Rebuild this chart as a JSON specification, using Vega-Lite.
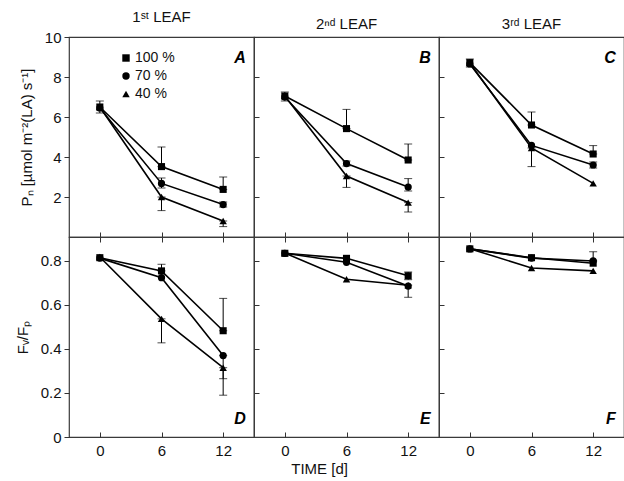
{
 "$schema": "https://vega.github.io/schema/vega-lite/v6.json",
 "padding": {"left": 14, "top": 9, "right": 0, "bottom": 2},
 "datasets": {"d": [
  {"m":"PN","leaf":1,"t":0,"g":"100 %","v":6.5,"lo":6.2,"hi":6.8},
  {"m":"PN","leaf":1,"t":0,"g":"70 %","v":6.45},
  {"m":"PN","leaf":1,"t":0,"g":"40 %","v":6.5},
  {"m":"PN","leaf":1,"t":6,"g":"100 %","v":3.52,"lo":3.52,"hi":4.5},
  {"m":"PN","leaf":1,"t":6,"g":"70 %","v":2.68,"lo":2.45,"hi":2.95},
  {"m":"PN","leaf":1,"t":6,"g":"40 %","v":2.0,"lo":1.32,"hi":2.0},
  {"m":"PN","leaf":1,"t":12,"g":"100 %","v":2.38,"lo":2.38,"hi":3.0},
  {"m":"PN","leaf":1,"t":12,"g":"70 %","v":1.62,"lo":1.5,"hi":1.75},
  {"m":"PN","leaf":1,"t":12,"g":"40 %","v":0.8,"lo":0.52,"hi":0.8},
  {"m":"PN","leaf":2,"t":0,"g":"100 %","v":7.05,"lo":6.8,"hi":7.25},
  {"m":"PN","leaf":2,"t":0,"g":"70 %","v":7.0},
  {"m":"PN","leaf":2,"t":0,"g":"40 %","v":7.05},
  {"m":"PN","leaf":2,"t":6,"g":"100 %","v":5.42,"lo":5.42,"hi":6.38},
  {"m":"PN","leaf":2,"t":6,"g":"70 %","v":3.67,"lo":3.55,"hi":3.8},
  {"m":"PN","leaf":2,"t":6,"g":"40 %","v":3.05,"lo":2.48,"hi":3.05},
  {"m":"PN","leaf":2,"t":12,"g":"100 %","v":3.85,"lo":3.85,"hi":4.65},
  {"m":"PN","leaf":2,"t":12,"g":"70 %","v":2.5,"lo":2.3,"hi":2.92},
  {"m":"PN","leaf":2,"t":12,"g":"40 %","v":1.72,"lo":1.25,"hi":1.72},
  {"m":"PN","leaf":3,"t":0,"g":"100 %","v":8.72,"lo":8.5,"hi":8.9},
  {"m":"PN","leaf":3,"t":0,"g":"70 %","v":8.65},
  {"m":"PN","leaf":3,"t":0,"g":"40 %","v":8.7},
  {"m":"PN","leaf":3,"t":6,"g":"100 %","v":5.6,"lo":5.6,"hi":6.25},
  {"m":"PN","leaf":3,"t":6,"g":"70 %","v":4.58},
  {"m":"PN","leaf":3,"t":6,"g":"40 %","v":4.45,"lo":3.52,"hi":4.45},
  {"m":"PN","leaf":3,"t":12,"g":"100 %","v":4.15,"lo":4.15,"hi":4.57},
  {"m":"PN","leaf":3,"t":12,"g":"70 %","v":3.6,"lo":3.45,"hi":3.75},
  {"m":"PN","leaf":3,"t":12,"g":"40 %","v":2.68},
  {"m":"FvFp","leaf":1,"t":0,"g":"100 %","v":0.815},
  {"m":"FvFp","leaf":1,"t":0,"g":"70 %","v":0.813},
  {"m":"FvFp","leaf":1,"t":0,"g":"40 %","v":0.818},
  {"m":"FvFp","leaf":1,"t":6,"g":"100 %","v":0.755,"lo":0.755,"hi":0.785},
  {"m":"FvFp","leaf":1,"t":6,"g":"70 %","v":0.724},
  {"m":"FvFp","leaf":1,"t":6,"g":"40 %","v":0.537,"lo":0.428,"hi":0.537},
  {"m":"FvFp","leaf":1,"t":12,"g":"100 %","v":0.483,"lo":0.483,"hi":0.63},
  {"m":"FvFp","leaf":1,"t":12,"g":"70 %","v":0.37,"lo":0.265,"hi":0.37},
  {"m":"FvFp","leaf":1,"t":12,"g":"40 %","v":0.315,"lo":0.19,"hi":0.315},
  {"m":"FvFp","leaf":2,"t":0,"g":"100 %","v":0.835},
  {"m":"FvFp","leaf":2,"t":0,"g":"70 %","v":0.835},
  {"m":"FvFp","leaf":2,"t":0,"g":"40 %","v":0.836},
  {"m":"FvFp","leaf":2,"t":6,"g":"100 %","v":0.812},
  {"m":"FvFp","leaf":2,"t":6,"g":"70 %","v":0.794},
  {"m":"FvFp","leaf":2,"t":6,"g":"40 %","v":0.717},
  {"m":"FvFp","leaf":2,"t":12,"g":"100 %","v":0.733,"lo":0.715,"hi":0.75},
  {"m":"FvFp","leaf":2,"t":12,"g":"70 %","v":0.686},
  {"m":"FvFp","leaf":2,"t":12,"g":"40 %","v":0.69,"lo":0.635,"hi":0.69},
  {"m":"FvFp","leaf":3,"t":0,"g":"100 %","v":0.855},
  {"m":"FvFp","leaf":3,"t":0,"g":"70 %","v":0.855},
  {"m":"FvFp","leaf":3,"t":0,"g":"40 %","v":0.856},
  {"m":"FvFp","leaf":3,"t":6,"g":"100 %","v":0.815},
  {"m":"FvFp","leaf":3,"t":6,"g":"70 %","v":0.813},
  {"m":"FvFp","leaf":3,"t":6,"g":"40 %","v":0.768},
  {"m":"FvFp","leaf":3,"t":12,"g":"100 %","v":0.79},
  {"m":"FvFp","leaf":3,"t":12,"g":"70 %","v":0.8,"lo":0.8,"hi":0.842},
  {"m":"FvFp","leaf":3,"t":12,"g":"40 %","v":0.755}
 ]},
 "data": {"name": "d"},
 "columns": 3,
 "spacing": 0,
 "bounds": "flush",
 "title": {"text": "TIME [d]", "orient": "bottom", "offset": 3, "anchor": "middle"},
 "resolve": {"legend": {"shape": "independent"}},
 "concat": [
  {
   "width": 185, "height": 200,
   "title": {"text": "1ˢᵗ LEAF", "anchor": "middle"},
   "transform": [{"filter": "datum.m == 'PN' && datum.leaf == 1"}],
   "encoding": {
    "x": {"field": "t", "type": "quantitative", "scale": {"domain": [-3, 15], "nice": false, "zero": false}, "axis": {"values": [0, 6, 12], "labels": false, "tickSize": 10, "offset": -5, "title": null}},
    "y": {"field": "v", "type": "quantitative", "scale": {"domain": [0, 10], "nice": false, "zero": false}, "axis": {"values": [2, 4, 6, 8, 10], "tickSize": 5, "labelPadding": 3, "title": "Pₙ [µmol m⁻²(LA) s⁻¹]", "titlePadding": 10}}
   },
   "layer": [
    {"mark": {"type": "errorbar", "rule": {"color": "black", "strokeWidth": 1}, "ticks": {"color": "black", "size": 8}},
     "transform": [{"filter": "isValid(datum.lo)"}],
     "encoding": {"y": {"field": "lo", "type": "quantitative", "scale": {"domain": [0, 10], "nice": false, "zero": false}, "axis": {"values": [2, 4, 6, 8, 10], "tickSize": 5, "labelPadding": 3, "title": "Pₙ [µmol m⁻²(LA) s⁻¹]", "titlePadding": 10}}, "y2": {"field": "hi"}}},
    {"mark": {"type": "line", "color": "black", "strokeWidth": 1.6}, "encoding": {"detail": {"field": "g"}}},
    {"mark": {"type": "point", "filled": true, "color": "black", "opacity": 1},
     "encoding": {
      "shape": {"field": "g", "type": "nominal", "scale": {"domain": ["100 %", "70 %", "40 %"], "range": ["square", "circle", "triangle-up"]},
       "legend": {"orient": "none", "legendX": 50, "legendY": 14, "title": null, "labelFontSize": 14, "labelFont": "Liberation Sans", "labelColor": "#111", "symbolSize": 55, "symbolFillColor": "black", "symbolStrokeColor": "black", "symbolOpacity": 1, "labelExpr": "datum.label == '100 %' ? datum.label : '\u2007' + datum.label", "rowPadding": 4, "padding": 0, "labelOffset": 2}},
      "size": {"field": "g", "type": "nominal", "scale": {"domain": ["100 %", "70 %", "40 %"], "range": [50, 55, 90]}, "legend": null}}},
    {"data": {"values": [{"t": 14.2, "v": 8.95, "lab": "A"}]},
     "mark": {"type": "text", "align": "right", "baseline": "middle", "fontSize": 16, "fontWeight": "bold", "fontStyle": "italic", "font": "Liberation Sans", "color": "black"},
     "encoding": {"text": {"field": "lab"}}}
   ]
  },
  {
   "width": 185, "height": 200,
   "title": {"text": "2ⁿᵈ LEAF", "anchor": "middle"},
   "transform": [{"filter": "datum.m == 'PN' && datum.leaf == 2"}],
   "encoding": {
    "x": {"field": "t", "type": "quantitative", "scale": {"domain": [-3, 15], "nice": false, "zero": false}, "axis": {"values": [0, 6, 12], "labels": false, "tickSize": 10, "offset": -5, "title": null}},
    "y": {"field": "v", "type": "quantitative", "scale": {"domain": [0, 10], "nice": false, "zero": false}, "axis": {"values": [2, 4, 6, 8, 10], "tickSize": 5, "offset": -5, "labels": false, "title": null}}
   },
   "layer": [
    {"mark": {"type": "errorbar", "rule": {"color": "black", "strokeWidth": 1}, "ticks": {"color": "black", "size": 8}},
     "transform": [{"filter": "isValid(datum.lo)"}],
     "encoding": {"y": {"field": "lo", "type": "quantitative", "scale": {"domain": [0, 10], "nice": false, "zero": false}, "axis": {"values": [2, 4, 6, 8, 10], "tickSize": 5, "offset": -5, "labels": false, "title": null}}, "y2": {"field": "hi"}}},
    {"mark": {"type": "line", "color": "black", "strokeWidth": 1.6}, "encoding": {"detail": {"field": "g"}}},
    {"mark": {"type": "point", "filled": true, "color": "black", "opacity": 1},
     "encoding": {
      "shape": {"field": "g", "type": "nominal", "scale": {"domain": ["100 %", "70 %", "40 %"], "range": ["square", "circle", "triangle-up"]}, "legend": null},
      "size": {"field": "g", "type": "nominal", "scale": {"domain": ["100 %", "70 %", "40 %"], "range": [50, 55, 90]}, "legend": null}}},
    {"data": {"values": [{"t": 14.2, "v": 8.95, "lab": "B"}]},
     "mark": {"type": "text", "align": "right", "baseline": "middle", "fontSize": 16, "fontWeight": "bold", "fontStyle": "italic", "font": "Liberation Sans", "color": "black"},
     "encoding": {"text": {"field": "lab"}}}
   ]
  },
  {
   "width": 185, "height": 200,
   "title": {"text": "3ʳᵈ LEAF", "anchor": "middle"},
   "transform": [{"filter": "datum.m == 'PN' && datum.leaf == 3"}],
   "encoding": {
    "x": {"field": "t", "type": "quantitative", "scale": {"domain": [-3, 15], "nice": false, "zero": false}, "axis": {"values": [0, 6, 12], "labels": false, "tickSize": 10, "offset": -5, "title": null}},
    "y": {"field": "v", "type": "quantitative", "scale": {"domain": [0, 10], "nice": false, "zero": false}, "axis": {"values": [2, 4, 6, 8, 10], "tickSize": 5, "offset": -5, "labels": false, "title": null}}
   },
   "layer": [
    {"mark": {"type": "errorbar", "rule": {"color": "black", "strokeWidth": 1}, "ticks": {"color": "black", "size": 8}},
     "transform": [{"filter": "isValid(datum.lo)"}],
     "encoding": {"y": {"field": "lo", "type": "quantitative", "scale": {"domain": [0, 10], "nice": false, "zero": false}, "axis": {"values": [2, 4, 6, 8, 10], "tickSize": 5, "offset": -5, "labels": false, "title": null}}, "y2": {"field": "hi"}}},
    {"mark": {"type": "line", "color": "black", "strokeWidth": 1.6}, "encoding": {"detail": {"field": "g"}}},
    {"mark": {"type": "point", "filled": true, "color": "black", "opacity": 1},
     "encoding": {
      "shape": {"field": "g", "type": "nominal", "scale": {"domain": ["100 %", "70 %", "40 %"], "range": ["square", "circle", "triangle-up"]}, "legend": null},
      "size": {"field": "g", "type": "nominal", "scale": {"domain": ["100 %", "70 %", "40 %"], "range": [50, 55, 90]}, "legend": null}}},
    {"data": {"values": [{"t": 14.2, "v": 8.95, "lab": "C"}]},
     "mark": {"type": "text", "align": "right", "baseline": "middle", "fontSize": 16, "fontWeight": "bold", "fontStyle": "italic", "font": "Liberation Sans", "color": "black"},
     "encoding": {"text": {"field": "lab"}}}
   ]
  },
  {
   "width": 185, "height": 200,
   "transform": [{"filter": "datum.m == 'FvFp' && datum.leaf == 1"}],
   "encoding": {
    "x": {"field": "t", "type": "quantitative", "scale": {"domain": [-3, 15], "nice": false, "zero": false}, "axis": {"values": [0, 6, 12], "tickSize": 5, "offset": -5, "labelPadding": 6, "title": null}},
    "y": {"field": "v", "type": "quantitative", "scale": {"domain": [0, 0.909], "nice": false, "zero": false}, "axis": {"values": [0, 0.2, 0.4, 0.6, 0.8], "format": "~g", "tickSize": 5, "labelPadding": 3, "title": "Fᵥ/Fₚ", "titlePadding": 10}}
   },
   "layer": [
    {"mark": {"type": "errorbar", "rule": {"color": "black", "strokeWidth": 1}, "ticks": {"color": "black", "size": 8}},
     "transform": [{"filter": "isValid(datum.lo)"}],
     "encoding": {"y": {"field": "lo", "type": "quantitative", "scale": {"domain": [0, 0.909], "nice": false, "zero": false}, "axis": {"values": [0, 0.2, 0.4, 0.6, 0.8], "format": "~g", "tickSize": 5, "labelPadding": 3, "title": "Fᵥ/Fₚ", "titlePadding": 10}}, "y2": {"field": "hi"}}},
    {"mark": {"type": "line", "color": "black", "strokeWidth": 1.6}, "encoding": {"detail": {"field": "g"}}},
    {"mark": {"type": "point", "filled": true, "color": "black", "opacity": 1},
     "encoding": {
      "shape": {"field": "g", "type": "nominal", "scale": {"domain": ["100 %", "70 %", "40 %"], "range": ["square", "circle", "triangle-up"]}, "legend": null},
      "size": {"field": "g", "type": "nominal", "scale": {"domain": ["100 %", "70 %", "40 %"], "range": [50, 55, 90]}, "legend": null}}},
    {"data": {"values": [{"t": 14.2, "v": 0.082, "lab": "D"}]},
     "mark": {"type": "text", "align": "right", "baseline": "middle", "fontSize": 16, "fontWeight": "bold", "fontStyle": "italic", "font": "Liberation Sans", "color": "black"},
     "encoding": {"text": {"field": "lab"}}}
   ]
  },
  {
   "width": 185, "height": 200,
   "transform": [{"filter": "datum.m == 'FvFp' && datum.leaf == 2"}],
   "encoding": {
    "x": {"field": "t", "type": "quantitative", "scale": {"domain": [-3, 15], "nice": false, "zero": false}, "axis": {"values": [0, 6, 12], "tickSize": 5, "offset": -5, "labelPadding": 6, "title": null}},
    "y": {"field": "v", "type": "quantitative", "scale": {"domain": [0, 0.909], "nice": false, "zero": false}, "axis": {"values": [0.2, 0.4, 0.6, 0.8], "tickSize": 5, "offset": -5, "labels": false, "title": null}}
   },
   "layer": [
    {"mark": {"type": "errorbar", "rule": {"color": "black", "strokeWidth": 1}, "ticks": {"color": "black", "size": 8}},
     "transform": [{"filter": "isValid(datum.lo)"}],
     "encoding": {"y": {"field": "lo", "type": "quantitative", "scale": {"domain": [0, 0.909], "nice": false, "zero": false}, "axis": {"values": [0.2, 0.4, 0.6, 0.8], "tickSize": 5, "offset": -5, "labels": false, "title": null}}, "y2": {"field": "hi"}}},
    {"mark": {"type": "line", "color": "black", "strokeWidth": 1.6}, "encoding": {"detail": {"field": "g"}}},
    {"mark": {"type": "point", "filled": true, "color": "black", "opacity": 1},
     "encoding": {
      "shape": {"field": "g", "type": "nominal", "scale": {"domain": ["100 %", "70 %", "40 %"], "range": ["square", "circle", "triangle-up"]}, "legend": null},
      "size": {"field": "g", "type": "nominal", "scale": {"domain": ["100 %", "70 %", "40 %"], "range": [50, 55, 90]}, "legend": null}}},
    {"data": {"values": [{"t": 14.2, "v": 0.082, "lab": "E"}]},
     "mark": {"type": "text", "align": "right", "baseline": "middle", "fontSize": 16, "fontWeight": "bold", "fontStyle": "italic", "font": "Liberation Sans", "color": "black"},
     "encoding": {"text": {"field": "lab"}}}
   ]
  },
  {
   "width": 185, "height": 200,
   "transform": [{"filter": "datum.m == 'FvFp' && datum.leaf == 3"}],
   "encoding": {
    "x": {"field": "t", "type": "quantitative", "scale": {"domain": [-3, 15], "nice": false, "zero": false}, "axis": {"values": [0, 6, 12], "tickSize": 5, "offset": -5, "labelPadding": 6, "title": null}},
    "y": {"field": "v", "type": "quantitative", "scale": {"domain": [0, 0.909], "nice": false, "zero": false}, "axis": {"values": [0.2, 0.4, 0.6, 0.8], "tickSize": 5, "offset": -5, "labels": false, "title": null}}
   },
   "layer": [
    {"mark": {"type": "errorbar", "rule": {"color": "black", "strokeWidth": 1}, "ticks": {"color": "black", "size": 8}},
     "transform": [{"filter": "isValid(datum.lo)"}],
     "encoding": {"y": {"field": "lo", "type": "quantitative", "scale": {"domain": [0, 0.909], "nice": false, "zero": false}, "axis": {"values": [0.2, 0.4, 0.6, 0.8], "tickSize": 5, "offset": -5, "labels": false, "title": null}}, "y2": {"field": "hi"}}},
    {"mark": {"type": "line", "color": "black", "strokeWidth": 1.6}, "encoding": {"detail": {"field": "g"}}},
    {"mark": {"type": "point", "filled": true, "color": "black", "opacity": 1},
     "encoding": {
      "shape": {"field": "g", "type": "nominal", "scale": {"domain": ["100 %", "70 %", "40 %"], "range": ["square", "circle", "triangle-up"]}, "legend": null},
      "size": {"field": "g", "type": "nominal", "scale": {"domain": ["100 %", "70 %", "40 %"], "range": [50, 55, 90]}, "legend": null}}},
    {"data": {"values": [{"t": 14.2, "v": 0.082, "lab": "F"}]},
     "mark": {"type": "text", "align": "right", "baseline": "middle", "fontSize": 16, "fontWeight": "bold", "fontStyle": "italic", "font": "Liberation Sans", "color": "black"},
     "encoding": {"text": {"field": "lab"}}}
   ]
  }
 ],
 "config": {
  "font": "Liberation Sans",
  "view": {"stroke": "#3a3a3a", "strokeWidth": 1.2},
  "axis": {"grid": false, "domain": false, "tickColor": "#333", "tickWidth": 1, "labelFont": "Liberation Sans", "labelFontSize": 15, "labelColor": "#111", "titleFont": "Liberation Sans", "titleFontSize": 15, "titleFontWeight": "normal", "titleColor": "#111", "labelOverlap": false},
  "title": {"font": "Liberation Sans", "fontSize": 15, "fontWeight": "normal", "color": "#111", "offset": 5}
 }
}
